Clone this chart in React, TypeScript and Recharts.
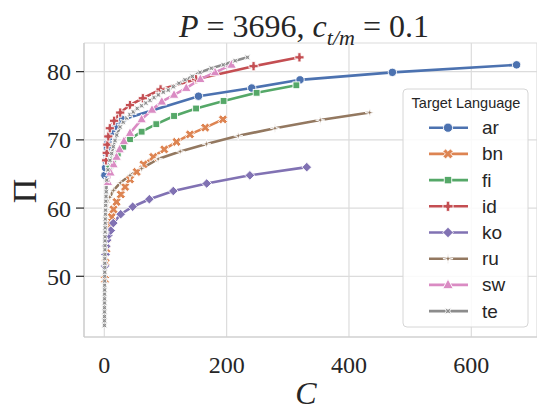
import { LineChart, Line, XAxis, YAxis, CartesianGrid } from "recharts";

const languages = ["ar", "bn", "fi", "id", "ko", "ru", "sw", "te"];
const colors = ["#4C72B0", "#DD8452", "#55A868", "#C44E52", "#8172B3", "#937860", "#DA8BC3", "#8C8C8C"];
const shapes = ["o", "X", "s", "P", "d", "star", "^", "xstar"];

const xTicks = [0, 200, 400, 600];
const yTicks = [50, 60, 70, 80];

// C (cost) and Pi (score) per target language
const arC = [1, 2, 3, 4, 5, 6, 8, 12, 19, 30, 154, 241, 320, 471, 674];
const arPi = [64.8, 65.9, 66.9, 67.9, 68.8, 69.6, 70.4, 71.2, 72.0, 73.0, 76.4, 77.6, 78.8, 79.9, 81.0];

const bnC = [1, 2, 3.5, 5, 7, 9.5, 12, 15, 20, 27, 34, 42, 53, 64, 80, 98, 118, 140, 165, 194];
const bnPi = [49.5, 52.0, 54.0, 55.5, 56.7, 57.7, 58.7, 59.8, 60.9, 62.0, 63.1, 64.2, 65.3, 66.4, 67.5, 68.6, 69.7, 70.8, 71.8, 73.0];

const fiC = [8, 14, 22, 31, 42, 61, 85, 114, 150, 195, 249, 314];
const fiPi = [65.8, 67.0, 68.0, 69.0, 70.1, 71.2, 72.3, 73.5, 74.6, 75.7, 76.9, 78.0];

const idC = [3, 4, 5, 6.5, 9, 16, 26, 42, 63, 92, 150, 244, 319];
const idPi = [67.0, 68.1, 69.3, 70.5, 71.7, 72.8, 74.0, 75.1, 76.1, 77.4, 78.9, 80.8, 82.1];

const koC = [1, 2, 3, 4.5, 6.5, 10.5, 14.7, 26.8, 46.4, 73.6, 112.8, 167.4, 238, 331];
const koPi = [51.5, 53.2, 54.4, 55.3, 56.0, 56.7, 57.8, 59.1, 60.2, 61.3, 62.5, 63.6, 64.8, 66.0];

const ruC = [1, 2, 3, 5, 9, 15, 26, 42, 61, 88, 124, 167, 219, 279, 353, 434];
const ruPi = [56.5, 58.5, 59.8, 60.8, 61.6, 62.6, 63.7, 64.8, 65.8, 67.2, 68.3, 69.4, 70.6, 71.7, 72.9, 74.0];

const swC = [6, 10, 15, 20, 25, 32, 42, 61, 78, 94, 114, 134, 157, 181, 208];
const swPi = [63.8, 65.2, 66.4, 67.5, 68.6, 69.8, 71.0, 73.0, 74.4, 75.6, 76.6, 77.6, 78.9, 79.9, 81.0];

const teC = [
  0.2, 0.2, 0.3, 0.3, 0.3, 0.4, 0.4, 0.4, 0.5, 0.5, 0.6, 0.6, 0.7, 0.7, 0.8, 0.8,
  0.9, 0.9, 1.0, 1.1, 1.2, 1.3, 1.4, 1.5, 1.6, 1.8, 2.0, 2.2, 2.5, 2.8, 3.2,
  4, 6, 9.3, 12, 14.7, 17.5, 20.3, 25.7, 31, 36.6, 42, 47.4, 54, 61.1, 68, 74.7,
  81.5, 88.3, 96.5, 104.6, 112.8, 122, 132, 144, 156.5, 175, 194.5, 214, 234,
];
const tePi = [
  42.8, 43.5, 44.1, 44.8, 45.4, 46.1, 46.7, 47.4, 48.0, 48.7, 49.3, 50.0, 50.6, 51.3, 51.9, 52.6,
  53.2, 53.9, 54.5, 55.2, 55.8, 56.5, 57.1, 57.8, 58.4, 59.1, 59.7, 60.4, 61.0, 61.7, 62.4,
  64.1, 65.6, 67.0, 68.0, 69.0, 69.9, 70.7, 71.9, 72.6, 73.2, 73.7, 74.1, 74.6, 75.0, 75.4, 75.8,
  76.2, 76.6, 77.0, 77.3, 77.8, 78.3, 78.8, 79.3, 79.9, 80.5, 81.0, 81.6, 82.1,
];

const allC = [arC, bnC, fiC, idC, koC, ruC, swC, teC];
const allPi = [arPi, bnPi, fiPi, idPi, koPi, ruPi, swPi, tePi];

const series = languages.map((name, i) => ({
  name,
  color: colors[i],
  shape: shapes[i],
  data: allC[i].map((c, j) => ({ c, pi: allPi[i][j] })),
}));

const serif = "'Liberation Serif', 'DejaVu Serif', serif";
const sans = "'Liberation Sans', Arial, sans-serif";

function poly(cx: number, cy: number, pts: number[][], rot: number) {
  const a = (rot * Math.PI) / 180;
  return pts
    .map(([x, y]) => {
      const rx = x * Math.cos(a) - y * Math.sin(a);
      const ry = x * Math.sin(a) + y * Math.cos(a);
      return `${cx + rx},${cy + ry}`;
    })
    .join(" ");
}

function plusPts(r: number, w: number) {
  return [[-w, -r], [w, -r], [w, -w], [r, -w], [r, w], [w, w], [w, r], [-w, r], [-w, w], [-r, w], [-r, -w], [-w, -w]];
}

function starPts(r: number, inner: number) {
  const p: number[][] = [];
  for (let k = 0; k < 8; k++) {
    const rr = k % 2 === 0 ? r : inner;
    const a = (k * Math.PI) / 4 - Math.PI / 2;
    p.push([rr * Math.cos(a), rr * Math.sin(a)]);
  }
  return p;
}

const Marker = ({ shape, cx, cy, fill, s = 1 }: any) => {
  const st = { fill, stroke: "#fff", strokeWidth: 0.9 };
  switch (shape) {
    case "o":
      return <circle cx={cx} cy={cy} r={4.2 * s} {...st} />;
    case "X":
      return <polygon points={poly(cx, cy, plusPts(4.8 * s, 1.7 * s), 45)} {...st} />;
    case "s":
      return <rect x={cx - 3.4 * s} y={cy - 3.4 * s} width={6.8 * s} height={6.8 * s} {...st} />;
    case "P":
      return <polygon points={poly(cx, cy, plusPts(4.6 * s, 1.6 * s), 0)} {...st} />;
    case "d":
      return <polygon points={poly(cx, cy, [[0, -4.8 * s], [4.8 * s, 0], [0, 4.8 * s], [-4.8 * s, 0]], 0)} {...st} />;
    case "star":
      return <polygon points={poly(cx, cy, starPts(4.6 * s, 1.2 * s), 0)} {...st} />;
    case "^":
      return <polygon points={poly(cx, cy, [[0, -5.3 * s], [4.8 * s, 3.4 * s], [-4.8 * s, 3.4 * s]], 0)} {...st} />;
    default:
      return <polygon points={poly(cx, cy, starPts(4.2 * s, 1.6 * s), 45)} {...st} />;
  }
};

const App = () => {
  return (
    <div style={{ position: "absolute", left: 0, top: 0, width: 537, height: 411, background: "#fff" }}>
      <LineChart width={537} height={411} margin={{ top: 43, right: 0, bottom: 34, left: 0 }}>
        <CartesianGrid stroke="#dcdcdc" strokeWidth={1.2} />
        <XAxis
          type="number"
          dataKey="c"
          domain={[-33.2, 707.4]}
          ticks={xTicks}
          allowDataOverflow
          height={40}
          tickLine={false}
          tickSize={0}
          tickMargin={19}
          axisLine={{ stroke: "#cccccc", strokeWidth: 1.2 }}
          tick={{ fontFamily: serif, fontSize: 24, fill: "#262626" }}
        />
        <YAxis
          type="number"
          dataKey="pi"
          domain={[41.1, 84.2]}
          ticks={yTicks}
          allowDataOverflow
          width={84}
          tickSize={8}
          tickMargin={5}
          tickLine={{ stroke: "#262626", strokeWidth: 1.2 }}
          axisLine={{ stroke: "#cccccc", strokeWidth: 1.2 }}
          tick={{ fontFamily: serif, fontSize: 24, fill: "#262626" }}
        />
        {series.map((s) => (
          <Line
            key={s.name}
            data={s.data}
            dataKey="pi"
            name={s.name}
            stroke={s.color}
            strokeWidth={2.6}
            isAnimationActive={false}
            dot={(p: any) => <Marker key={`${s.name}-${p.index}`} shape={s.shape} cx={p.cx} cy={p.cy} fill={s.color} />}
          />
        ))}
      </LineChart>
      <svg width={537} height={411} style={{ position: "absolute", left: 0, top: 0, pointerEvents: "none" }}>
        <text x={304} y={37} textAnchor="middle" fontFamily={serif} fontSize={32} fill="#262626">
          <tspan fontStyle="italic">P</tspan>
          <tspan>{" = 3696, "}</tspan>
          <tspan fontStyle="italic">c</tspan>
          <tspan fontStyle="italic" fontSize={22} dy={8}>t/m</tspan>
          <tspan dy={-8}>{" = 0.1"}</tspan>
        </text>
        <text x={306} y={404} textAnchor="middle" fontFamily={serif} fontStyle="italic" fontSize={32} fill="#262626">C</text>
        <text
          x={24}
          y={191}
          transform="rotate(-90, 24, 191)"
          textAnchor="middle"
          dominantBaseline="central"
          fontFamily={serif}
          fontSize={34}
          fill="#262626"
        >
          Π
        </text>
        <rect x={403} y={89} width={125} height={238} rx={4} fill="#fff" fillOpacity={0.85} stroke="#d6d6d6" strokeWidth={1} />
        <text x={466} y={108} textAnchor="middle" fontFamily={sans} fontSize={14.5} fill="#262626">Target Language</text>
        {series.map((s, i) => {
          const y = 127.7 + i * 26.2;
          return (
            <g key={s.name}>
              <line x1={429} x2={468} y1={y} y2={y} stroke={s.color} strokeWidth={2.6} />
              <Marker shape={s.shape} cx={448} cy={y} fill={s.color} s={1.1} />
              <text x={482} y={y} dominantBaseline="central" fontFamily={sans} fontSize={19} fill="#262626">{s.name}</text>
            </g>
          );
        })}
      </svg>
    </div>
  );
};

export default App;
